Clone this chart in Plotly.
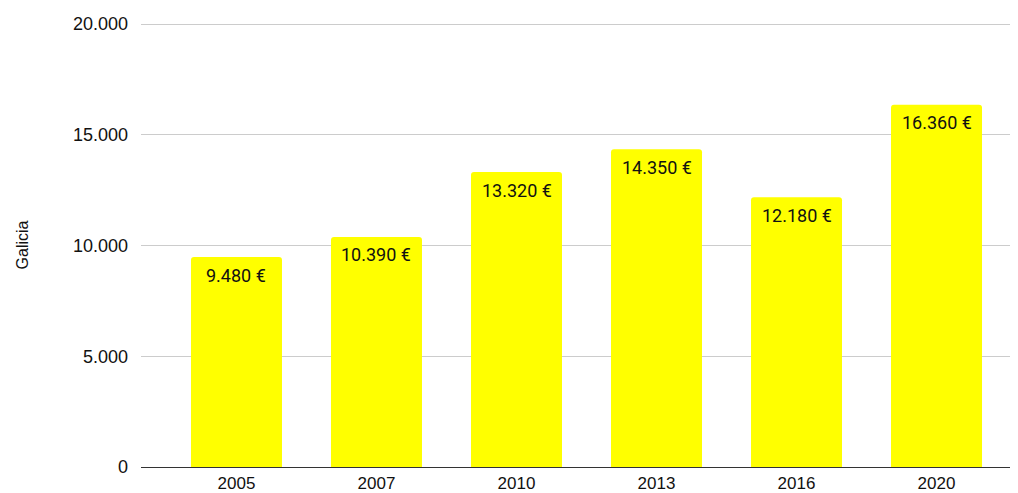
import plotly.graph_objects as go

years = ["2005", "2007", "2010", "2013", "2016", "2020"]
values = [9480, 10390, 13320, 14350, 12180, 16360]
labels = ["9.480 €", "10.390 €", "13.320 €", "14.350 €", "12.180 €", "16.360 €"]
y_ticks = [0, 5000, 10000, 15000, 20000]
y_tick_text = ["0", "5.000", "10.000", "15.000", "20.000"]

fig = go.Figure()
fig.add_trace(go.Bar(
    x=years, y=values, width=0.65,
    marker=dict(color="#ffff00", line=dict(width=0)),
    hoverinfo="skip",
))

for i, (v, t) in enumerate(zip(values, labels)):
    fig.add_annotation(
        x=i, y=v, xref="x", yref="y", text=t, showarrow=False,
        yanchor="middle", yshift=-18,
        font=dict(family="Roboto", size=18, color="#111111"),
    )

fig.update_layout(
    width=1010, height=485,
    margin=dict(l=133, r=0, t=15, b=26),
    paper_bgcolor="white", plot_bgcolor="white",
    barcornerradius=3,
    showlegend=False,
    xaxis=dict(
        type="category", range=[-0.682, 5.582], automargin=False,
        showgrid=False, showline=False, zeroline=False,
        ticks="", tickfont=dict(family="Liberation Sans", size=17, color="#111111"),
        ticklabelstandoff=4,
    ),
    yaxis=dict(
        range=[0, 20050], tickvals=y_ticks, ticktext=y_tick_text,
        showgrid=True, gridcolor="#cccccc", gridwidth=1,
        zeroline=True, zerolinecolor="#333333", zerolinewidth=1,
        showline=False, ticks="",
        tickfont=dict(family="Liberation Sans", size=18, color="#111111"),
        ticklabelstandoff=12,
        title=dict(text="Galicia", font=dict(family="Liberation Sans", size=16, color="#111111"), standoff=40),
    ),
)

fig.write_html("out.html")
